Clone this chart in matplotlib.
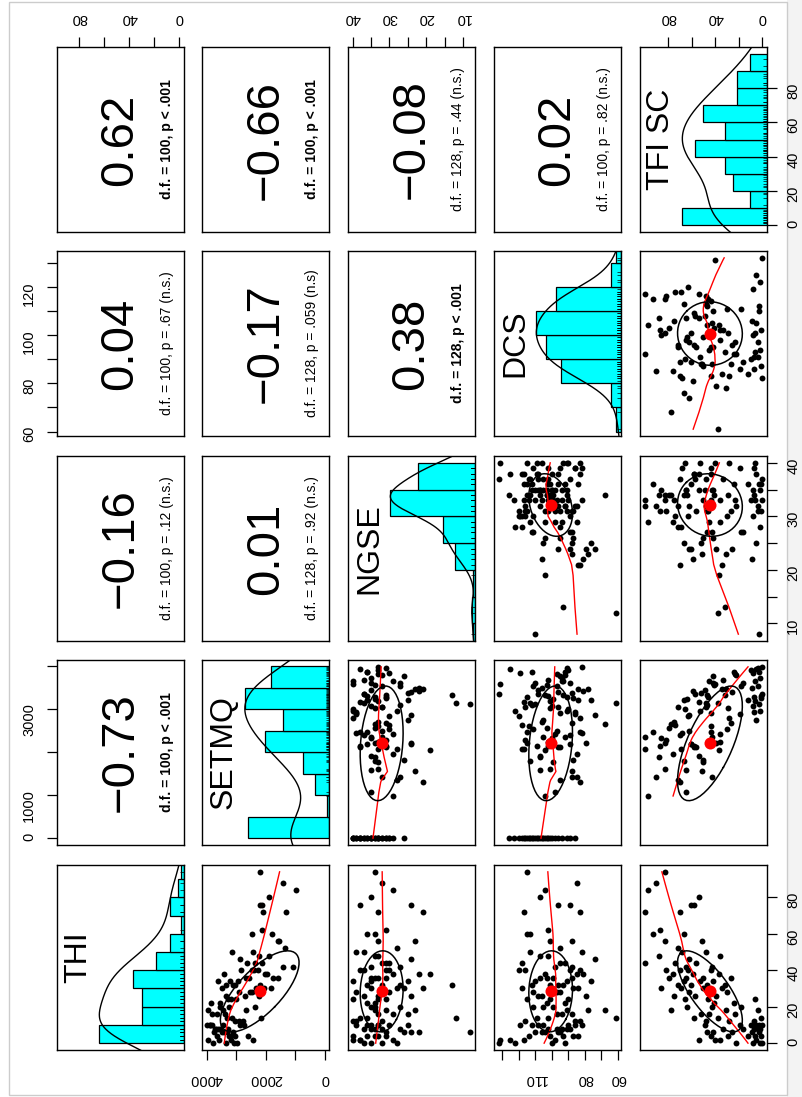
import numpy as np
import matplotlib
matplotlib.use('Agg')
import matplotlib.pyplot as plt
from matplotlib.patches import Rectangle

nan = np.nan

# one entry per subject; the last 28 subjects have no THI / TFI SC score (SETMQ = 0)
thi = [0, 10, 4, 8, 0, 10, 6, 8, 2, 10, 4, 8, 10, 0, 6, 10, 4, 8, 10, 0, 6, 4, 8, 2, 2, 6, 4, 6, 10, 2,
       14, 18, 12, 20, 16, 12, 18, 14, 20, 16, 12, 16, 14, 20, 18,
       24, 22, 28, 30, 26, 22, 28, 24, 30, 26, 28, 24, 30, 26, 30,
       36, 32, 38, 34, 40, 32, 36, 34, 38, 32, 40, 36, 34, 40, 32, 38, 36, 40,
       48, 42, 50, 44, 46, 42, 50, 44, 48, 44,
       52, 56, 56, 60, 60, 62,
       94, 88, 84, 80, 76, 76, 72, 72] + [nan] * 28

setmq = [3360, 3980, 3250, 3720, 2960, 3870, 3120, 3530, 3940, 2750, 3650, 3290, 3830, 3070, 3480,
         3900, 3200, 3610, 2880, 3790, 3400, 3030, 3680, 2420, 3570, 3760, 2600, 3320, 3440, 3160,
         3300, 3950, 2920, 3540, 3810, 2780, 3460, 3140, 2360, 3660, 3050, 3380, 2150, 3230, 2650,
         3180, 3850, 2540, 3470, 2210, 3560, 2900, 3270, 1820, 3350, 2480, 3010, 2060, 2710, 2330,
         2680, 3330, 2040, 3610, 2470, 3100, 1770, 2950, 3420, 2180, 2830, 1590, 3210, 2390, 3040,
         1960, 2560, 2270,
         2230, 1420, 3150, 2110, 2870, 1070, 2440, 2620, 1880, 2350,
         1350, 1600, 1550, 2470, 1800, 2140,
         2200, 1430, 980, 1900, 2190, 2120, 2080, 1300] + [0] * 28

ngse = [37, 33, 31, 35, 28, 36, 8, 32, 38, 25, 40, 34, 30, 35, 22, 33, 36, 27, 39, 32, 24, 34, 37, 29, 40,
        26, 33, 31, 35, 38,
        36, 31, 39, 27, 33, 40, 23, 12, 35, 29, 32, 25, 38, 34, 34,
        33, 36, 30, 21, 24, 34, 39, 31, 26, 37, 32, 40, 28, 33, 35,
        31, 13, 19, 35, 38, 27, 33, 40, 22, 36, 30, 35, 25, 37, 32, 29, 34, 31,
        33, 27, 37, 31, 24, 35, 39, 30, 34, 32,
        28, 33, 23, 36, 34, 31,
        34, 32, 29, 35, 24, 38, 33, 21,
        26, 29, 30, 30, 31, 31, 32, 32, 33, 33, 33, 34, 34, 35, 35, 35, 36, 36, 37, 37, 38, 38, 38,
        39, 39, 40, 40, 40]

dcs = [132, 82, 87, 94, 122, 112, 110, 97, 125, 105, 93, 91, 119, 100, 106, 90, 84, 89, 86, 92, 96, 101,
       102, 98, 131, 95, 114, 104, 108, 117,
       102, 91, 86, 111, 97, 83, 78, 61, 105, 94, 116, 88, 109, 99, 68,
       101, 92, 111, 84, 79, 103, 95, 115, 87, 108, 97, 90, 118, 106, 100,
       88, 93, 104, 110, 83, 112, 99, 91, 81, 101, 120, 107, 76, 89, 96, 85, 103, 116,
       102, 88, 113, 95, 74, 98, 82, 118, 107, 92,
       95, 101, 88, 115, 113, 102,
       115, 85, 104, 107, 89, 96, 117, 83,
       104, 113, 89, 116, 98, 120, 86, 107, 123, 94, 110, 101, 126, 91, 112, 103, 117, 96, 105, 114,
       100, 118, 108, 102, 111, 106, 115, 109]

tfi_sc = [0, 0, 1, 2, 2, 3, 3, 4, 5, 5, 6, 7, 8, 8, 9, 10, 12, 16, 19, 22, 26, 29, 33, 36, 40, 42, 44,
          47, 49, 54,
          1, 4, 7, 18, 23, 28, 31, 38, 43, 45, 48, 52, 58, 64, 78,
          6, 24, 30, 34, 39, 41, 44, 46, 50, 57, 62, 66, 69, 75, 86,
          27, 32, 37, 42, 44, 47, 50, 53, 59, 61, 63, 65, 67, 70, 72, 76, 79, 82,
          36, 43, 48, 56, 62, 65, 68, 74, 88, 100,
          72, 83, 51, 93, 67, 87,
          83, 90, 97, 54, 61, 58, 100, 70] + [nan] * 28

names = ['THI', 'SETMQ', 'NGSE', 'DCS', 'TFI SC']
data = {'THI': np.array(thi, float), 'SETMQ': np.array(setmq, float), 'NGSE': np.array(ngse, float),
        'DCS': np.array(dcs, float), 'TFI SC': np.array(tfi_sc, float)}

# correlation panel text (as printed on the chart)
cor_pairs = [('THI', 'TFI SC'), ('SETMQ', 'TFI SC'), ('NGSE', 'TFI SC'), ('DCS', 'TFI SC'),
             ('THI', 'DCS'), ('SETMQ', 'DCS'), ('NGSE', 'DCS'),
             ('THI', 'NGSE'), ('SETMQ', 'NGSE'), ('THI', 'SETMQ')]
cor_values = ['0.62', '\u22120.66', '\u22120.08', '0.02', '0.04', '\u22120.17', '0.38', '\u22120.16', '0.01',
              '\u22120.73']
cor_notes = ['d.f. = 100, p < .001', 'd.f. = 100, p < .001', 'd.f. = 128, p = .44 (n.s.)',
             'd.f. = 100, p = .82 (n.s.)', 'd.f. = 100, p = .67 (n.s.)', 'd.f. = 128, p = .059 (n.s)',
             'd.f. = 128, p < .001', 'd.f. = 100, p = .12 (n.s.)', 'd.f. = 128, p = .92 (n.s.)',
             'd.f. = 100, p < .001']

hist_breaks = {'THI': np.arange(0, 101, 10), 'SETMQ': np.arange(0, 4001, 500), 'NGSE': np.arange(5, 41, 5),
               'DCS': np.arange(60, 141, 10), 'TFI SC': np.arange(0, 101, 10)}
ticks = {'THI': [0, 20, 40, 60, 80], 'SETMQ': [0, 1000, 2000, 3000, 4000], 'NGSE': [10, 15, 20, 25, 30, 35, 40],
         'DCS': [60, 70, 80, 90, 100, 110, 120, 130], 'TFI SC': [0, 20, 40, 60, 80]}
xlab_shown = {'THI': [0, 40, 80], 'SETMQ': [0, 2000, 4000], 'NGSE': [10, 20, 30, 40], 'DCS': [60, 80, 110],
              'TFI SC': [0, 40, 80]}
ylab_shown = {'THI': [0, 20, 40, 60, 80], 'SETMQ': [0, 1000, 3000], 'NGSE': [10, 20, 30, 40],
              'DCS': [60, 80, 100, 120], 'TFI SC': [0, 20, 40, 60, 80]}

plt.rcParams['font.family'] = ['Liberation Sans', 'DejaVu Sans']


def lowess(x, y, f=2 / 3, iters=3):
    o = np.argsort(x, kind='mergesort')
    x = x[o]
    y = y[o]
    n = len(x)
    r = int(np.ceil(f * n))
    rw = np.ones(n)
    fit = np.zeros(n)
    for it in range(iters + 1):
        for i in range(n):
            d = np.abs(x - x[i])
            h = max(np.sort(d)[r - 1], 1e-9)
            u = d / h
            w = np.where(u < 1, (1 - u ** 3) ** 3, 0.0) * rw
            sw = w.sum()
            xm = (w * x).sum() / sw
            ym = (w * y).sum() / sw
            sxx = (w * (x - xm) ** 2).sum()
            if sxx > 1e-9:
                b = (w * (x - xm) * (y - ym)).sum() / sxx
                fit[i] = ym + b * (x[i] - xm)
            else:
                fit[i] = ym
        if it < iters:
            res = y - fit
            s = np.median(np.abs(res))
            if s == 0:
                break
            u = res / (6 * s)
            rw = np.where(np.abs(u) < 1, (1 - u ** 2) ** 2, 0.0)
    return x, fit


def density(v):
    n = len(v)
    q75, q25 = np.percentile(v, [75, 25])
    lo = min(v.std(ddof=1), (q75 - q25) / 1.34)
    bw = 1.2 * 1.06 * lo * n ** -0.2
    g = np.linspace(v.min() - 3 * bw, v.max() + 3 * bw, 512)
    d = np.exp(-0.5 * ((g[:, None] - v[None, :]) / bw) ** 2).sum(axis=1)
    return g, d / d.max()


lims = {}
for nm in names:
    v = data[nm][np.isfinite(data[nm])]
    rg = v.max() - v.min()
    lims[nm] = (v.min() - 0.04 * rg, v.max() + 0.04 * rg)

W, H = 803, 1097
fig = plt.figure(figsize=(W / 100, H / 100), dpi=100)

# screenshot frame (kept behind the panels)
fig.patches.append(Rectangle((787 / W, 0), 16 / W, 1, transform=fig.transFigure,
                             facecolor='#f3f3f3', edgecolor='none', zorder=-2))
fig.patches.append(Rectangle((9 / W, 2 / H), 778 / W, 1093 / H, transform=fig.transFigure,
                             fill=False, edgecolor='#cccccc', lw=1, zorder=-1))

col_left = [57, 202.5, 348, 494, 640]
row_top = [47, 251, 456, 660, 865]
pw, ph = 127, 185

for r in range(5):
    for c in range(5):
        vx = names[c]       # horizontal, increasing to the left
        vy = names[4 - r]   # vertical, increasing upwards
        ax = fig.add_axes([col_left[c] / W, 1 - (row_top[r] + ph) / H, pw / W, ph / H])
        ax.patch.set_alpha(0)
        xlo, xhi = lims[vx]
        ylo, yhi = lims[vy]
        ax.set_xlim(xhi, xlo)
        ax.set_ylim(ylo, yhi)
        ax.set_xticks([])
        ax.set_yticks([])
        for sp in ax.spines.values():
            sp.set_linewidth(1.0)

        if r + c > 4:
            x = data[vx]
            y = data[vy]
            ax.scatter(x, y, s=18, c='black', linewidths=0, zorder=2)
            ok = np.isfinite(x) & np.isfinite(y)
            lx, ly = lowess(y[ok], x[ok])
            ax.plot(ly, lx, color='red', lw=1.0, zorder=3)
            # correlation ellipse (1 sd) around the means
            xm, xs = np.nanmean(y), np.nanstd(y, ddof=1)
            ym, ys = np.nanmean(x), np.nanstd(x, ddof=1)
            rr = np.corrcoef(y[ok], x[ok])[0, 1]
            th = np.sign(rr) / np.sqrt(2)
            a = np.linspace(0, 2 * np.pi, 52)
            e1 = np.cos(a) * np.sqrt(1 + rr) * th - np.sin(a) * np.sqrt(1 - rr) * th
            e2 = np.cos(a) * np.sqrt(1 + rr) * th + np.sin(a) * np.sqrt(1 - rr) * th
            ax.scatter([ym], [xm], s=75, c='red', linewidths=0, zorder=4)
            ax.plot(e2 * ys + ym, e1 * xs + xm, color='black', lw=1.1, zorder=4)
        elif r + c == 4:
            v = data[vx][np.isfinite(data[vx])]
            br = hist_breaks[vx]
            counts = np.array([np.sum((v > lo) & (v <= hi)) + (np.sum(v == lo) if k == 0 else 0)
                               for k, (lo, hi) in enumerate(zip(br[:-1], br[1:]))])
            hgt = counts / counts.max()
            span = xhi - xlo
            ax.barh(br[:-1], hgt / 1.5 * span, left=xlo, height=np.diff(br), align='edge',
                    color='#00FFFF', edgecolor='black', linewidth=0.9)
            g, d = density(v)
            ax.plot(xlo + d / 1.5 * span, g, color='black', lw=1.0)
            ax.hlines(v, xlo, xlo + 0.03 * span, color='black', lw=0.5)
            ax.text(1 - 0.833, 0.5, vx, transform=ax.transAxes, rotation=90, ha='center', va='center',
                    fontsize=23)
        else:
            k = cor_pairs.index((vx, vy))
            ax.text(0.5, 0.5, cor_values[k], transform=ax.transAxes, rotation=90, ha='center',
                    va='center', fontsize=34)
            bold = '<' in cor_notes[k]
            ax.text(0.865, 0.5, cor_notes[k], transform=ax.transAxes, rotation=90, ha='center',
                    va='center', fontsize=10, fontweight='bold' if bold else 'normal')

        tk = dict(length=7, width=0.9, labelsize=10.5, direction='out')
        if r == 0 and c in (0, 2, 4):
            ax.set_xticks(ticks[vx], [str(t) if t in xlab_shown[vx] else '' for t in ticks[vx]])
            ax.tick_params(axis='x', top=True, labeltop=True, bottom=False, labelbottom=False,
                           labelrotation=180, pad=9, **tk)
        if r == 4 and c in (1, 3):
            ax.set_xticks(ticks[vx], [str(t) if t in xlab_shown[vx] else '' for t in ticks[vx]])
            ax.tick_params(axis='x', labelrotation=180, pad=9, **tk)
        if c == 0 and r in (1, 3):
            ax.set_yticks(ticks[vy], [str(t) if t in ylab_shown[vy] else '' for t in ticks[vy]])
            ax.tick_params(axis='y', labelrotation=90, pad=8, **tk)
        if c == 4 and r in (0, 2, 4):
            ax.set_yticks(ticks[vy], [str(t) if t in ylab_shown[vy] else '' for t in ticks[vy]])
            ax.tick_params(axis='y', left=False, labelleft=False, right=True, labelright=True,
                           labelrotation=90, pad=6.8, **tk)

fig.savefig('out.png', dpi=100)
